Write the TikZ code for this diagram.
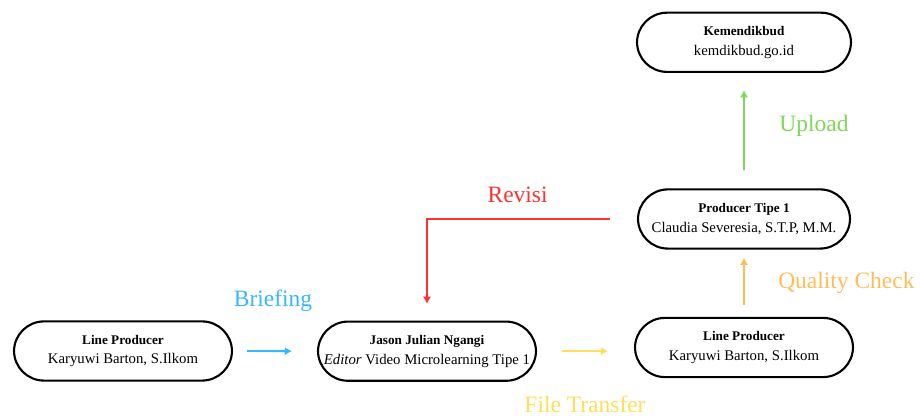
\documentclass[tikz,border=0pt]{standalone}
\usepackage{fontspec}
\setmainfont{Liberation Serif}
\usetikzlibrary{arrows.meta}

\definecolor{briefblue}{HTML}{38B6FF}
\definecolor{fileyellow}{HTML}{FFDE59}
\definecolor{qcorange}{HTML}{FFBD59}
\definecolor{uploadgreen}{HTML}{7ED957}
\definecolor{revisired}{HTML}{FF3131}

\newcommand{\boxtitle}[1]{{\fontsize{9.4}{14}\selectfont\bfseries #1}}

\begin{document}
\begin{tikzpicture}[
		    rolebox/.style={draw=black, line width=1.5pt, rounded corners=0.75cm, minimum width=5.45cm, minimum height=1.48cm, align=center, font=\fontsize{10.5}{14}\selectfont, inner sep=0pt},
		    flow/.style={line width=1.3pt, -{Latex[length=1.8mm,width=2.1mm]}},
		    flowlabel/.style={anchor=base, font=\fontsize{16.7}{20}\selectfont, inner sep=0pt}
		]
		    \useasboundingbox (0,0) rectangle (23.025,10.4);
		    
		    \node [rolebox] (LA) at (3.075,1.625) {\boxtitle{Line Producer}\\Karyuwi Barton, S.Ilkom};
		    \node [rolebox] (ED) at (10.675,1.62) {\boxtitle{Jason Julian Ngangi}\\\textit{Editor} Video Microlearning Tipe 1};
		    \node [rolebox] (LB) at (18.6,1.7125) {\boxtitle{Line Producer}\\Karyuwi Barton, S.Ilkom};
		    \node [rolebox, minimum width=5.3cm] (PT) at (18.6,4.925) {\boxtitle{Producer Tipe 1}\\Claudia Severesia, S.T.P, M.M.};
		    \node [rolebox, minimum width=5.35cm] (KB) at (18.6,9.3425) {\boxtitle{Kemendikbud}\\kemdikbud.go.id};
		    
			\draw [flow, briefblue, shorten <=0.35cm, shorten >=0.625cm] (LA.east) -- (ED.west);
			\draw [flow, fileyellow, shorten <=0.625cm, shorten >=0.65cm] (ED.east) -- (ED.east -| LB.west);
			\draw [flow, qcorange, shorten <=0.3cm, shorten >=0.2cm] (LB.north) -- (PT.south);
			\draw [flow, uploadgreen, shorten <=0.45cm, shorten >=0.43cm] (PT.north) -- (KB.south);
			\draw [flow, revisired, shorten <=0.67cm, shorten >=0.42cm] (PT.west) -- (PT.west -| ED.north) -- (ED.north);
			
			\node [flowlabel, text=briefblue] (BR) at (6.825,2.73) {Briefing};
			\node [flowlabel, text=fileyellow] (FT) at (14.625,0.075) {File Transfer};
			\node [flowlabel, text=qcorange] (QC) at (21.16,3.19) {Quality Check};
			\node [flowlabel, text=uploadgreen] (UP) at (20.35,7.11) {Upload};
			\node [flowlabel, text=revisired] (RV) at (12.94,5.33) {Revisi};
		\end{tikzpicture}
\end{document}
